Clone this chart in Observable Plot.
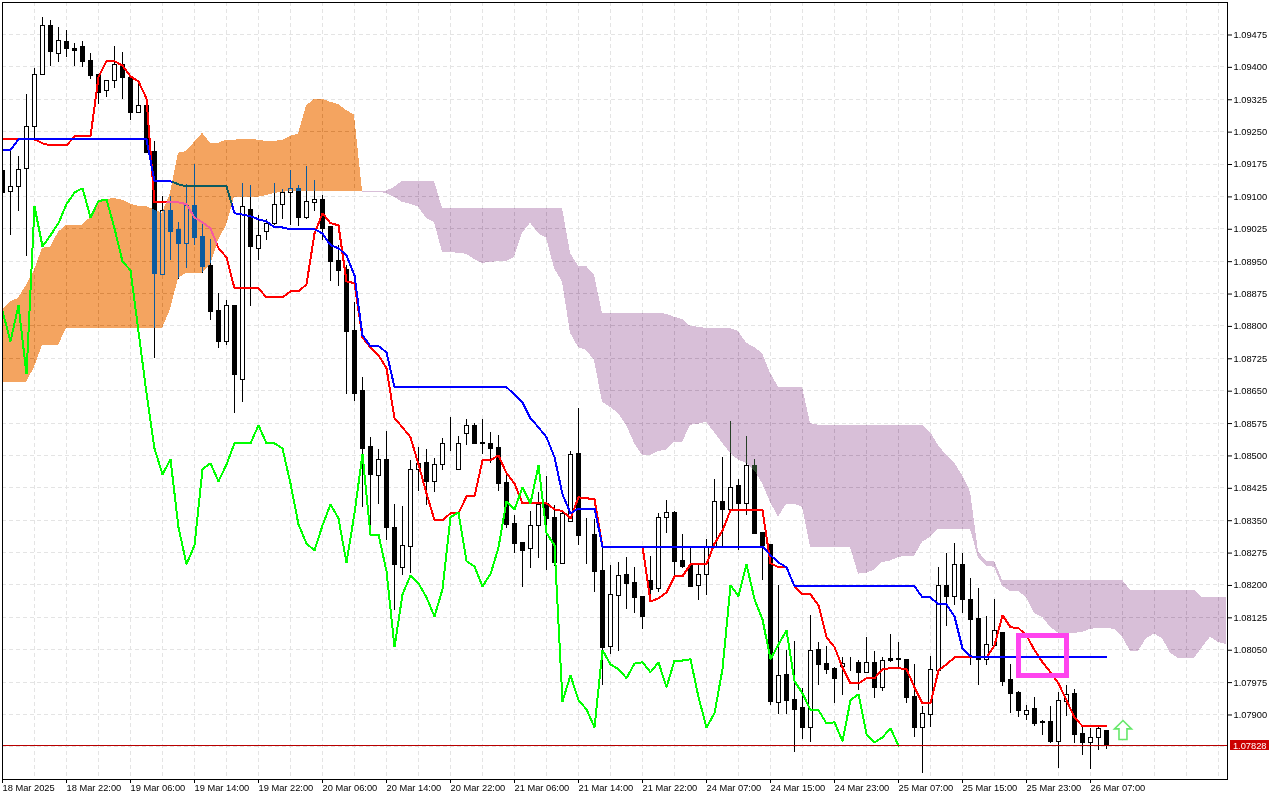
<!DOCTYPE html>
<html>
<head>
<meta charset="utf-8">
<script src="https://cdn.jsdelivr.net/npm/d3@7"></script>
<script src="https://cdn.jsdelivr.net/npm/@observablehq/plot@0.6"></script>
<style>html,body{margin:0;background:#fff}svg{display:block}</style>
</head>
<body>
<div id="chart"></div>
<script>
// Prices in points (1 point = 0.00001)
const openP = [109160,109112,109123,109165,109262,109383,109496,109431,109459,109443,109447,109415,109383,109346,109369,109406,109376,109295,109311,109204,108919,109068,109024,108991,109079,109007,108940,108836,108764,108848,108676,109070,108980,109019,109038,109082,109109,109119,109051,109086,109093,109031,108952,108931,108790,108651,108521,108454,108491,108333,108241,108289,108468,108484,108440,108479,108528,108468,108551,108570,108530,108528,108519,108438,108343,108299,108285,108338,108389,108357,108250,108347,108505,108317,108317,108234,108058,108176,108225,108206,108174,108211,108192,108357,108368,108257,108245,108199,108225,108287,108394,108375,108431,108389,108477,108322,108294,107928,107993,107935,107917,107870,108051,108018,108007,108012,108021,108021,107998,108021,107963,108030,108030,108028,107942,107870,107900,108002,108199,108174,108248,108167,108123,108028,108060,108090,107981,107951,107900,107914,107884,107884,107838,107931,107949,107856,107835,107847,107863];
const highP = [109207,109207,109193,109336,109397,109515,109508,109491,109485,109454,109459,109431,109383,109369,109447,109434,109376,109364,109311,109227,109100,109100,109040,109128,109174,109035,109000,108875,108859,108848,109130,109126,109056,109047,109130,109116,109160,109126,109170,109137,109102,109031,108987,108940,108855,108681,108542,108514,108556,108387,108382,108489,108519,108514,108493,108540,108588,108544,108584,108574,108584,108553,108547,108454,108361,108299,108371,108415,108452,108384,108371,108509,108609,108354,108352,108287,108245,108252,108264,108241,108174,108266,108366,108396,108371,108317,108289,108250,108306,108445,108496,108579,108445,108544,108491,108322,108294,108199,108049,108069,107961,108130,108067,108058,108009,108032,108032,108025,108079,108046,108032,108086,108067,108028,108016,107919,108035,108241,108273,108296,108273,108215,108192,108127,108167,108090,108016,107954,107921,107940,107886,107919,107951,107967,107958,107873,107868,107870,107863];
const lowP = [109079,109010,109065,108961,109234,109383,109401,109410,109422,109401,109399,109371,109313,109329,109350,109325,109276,109295,109202,108725,108917,108952,108908,108933,108987,108922,108813,108748,108755,108597,108623,108845,108952,108998,109033,109047,109033,109031,109047,109065,108998,108903,108892,108642,108625,108380,108338,108387,108303,108141,108222,108227,108417,108384,108415,108465,108509,108465,108523,108528,108503,108482,108417,108331,108273,108195,108239,108262,108234,108243,108250,108345,108292,108248,108183,107967,108039,108046,108144,108134,108097,108171,108183,108320,108220,108238,108195,108164,108176,108285,108287,108373,108280,108361,108317,108211,107921,107900,107900,107812,107842,107836,107967,107993,107926,107944,108000,107956,107995,107937,107954,108021,108007,107926,107847,107764,107870,108000,108104,108153,108134,108014,107967,108014,108060,107965,107903,107893,107886,107873,107852,107833,107775,107896,107833,107805,107773,107817,107819];
const closeP = [109109,109123,109163,109262,109383,109496,109436,109461,109443,109438,109413,109380,109341,109369,109406,109376,109295,109311,109202,108922,109068,109019,108991,109079,109005,108938,108834,108764,108848,108688,109077,108984,109010,109038,109082,109109,109119,109051,109089,109093,109026,108949,108929,108787,108644,108516,108456,108491,108333,108248,108292,108468,108482,108440,108479,108528,108528,108528,108570,108528,108528,108516,108435,108340,108296,108280,108338,108387,108354,108252,108366,108503,108315,108317,108232,108056,108178,108222,108204,108171,108127,108190,108357,108368,108255,108243,108197,108225,108287,108394,108375,108426,108389,108477,108320,108292,107930,107991,107933,107912,107870,108049,108016,108005,107984,108018,108021,107998,108021,107963,108025,108025,108028,107940,107870,107903,108005,108199,108174,108248,108167,108120,108028,108062,108095,107977,107949,107910,107910,107879,107882,107838,107933,107947,107854,107835,107847,107868,107828];

const tenkan = [109232,109232,109232,109232,109232,109223,109218,109218,109218,109239,109239,109239,109376,109413,109413,109403,109378,109366,109327,109086,109086,109086,109086,109082,109051,109040,109026,108980,108959,108887,108887,108887,108887,108866,108866,108866,108880,108880,108896,109014,109061,109038,109033,108903,108899,108773,108750,108732,108702,108586,108565,108542,108479,108412,108350,108350,108366,108366,108405,108405,108489,108489,108500,108459,108435,108389,108389,108389,108389,108375,108371,108354,108403,108401,108398,108289,108289,108289,108289,108289,108289,108162,108169,108183,108220,108220,108248,108248,108248,108296,108326,108373,108373,108373,108373,108373,108250,108241,108241,108197,108178,108178,108153,108079,108056,108009,107972,107972,107984,107984,108005,108007,108007,108005,107963,107926,107926,108002,108016,108032,108032,108032,108032,108032,108060,108130,108102,108100,108083,108049,108021,107998,107972,107933,107893,107873,107873,107873,107873];
const kijun = [109207,109207,109232,109232,109232,109232,109232,109232,109232,109232,109232,109232,109232,109232,109232,109232,109232,109232,109232,109135,109135,109135,109128,109123,109123,109123,109123,109123,109123,109061,109058,109054,109047,109042,109028,109028,109024,109024,109024,109024,109014,108987,108980,108963,108917,108778,108753,108753,108739,108658,108658,108658,108658,108658,108658,108658,108658,108658,108658,108658,108658,108658,108658,108658,108641,108623,108586,108565,108542,108496,108410,108366,108377,108377,108377,108289,108289,108289,108289,108289,108289,108289,108289,108289,108289,108289,108289,108289,108289,108289,108289,108289,108289,108289,108289,108289,108269,108252,108241,108197,108197,108197,108197,108197,108197,108197,108197,108197,108197,108197,108197,108197,108197,108197,108197,108171,108171,108155,108155,108127,108053,108035,108032,108032,108032,108032,108032,108032,108032,108032,108032,108032,108032,108032,108032,108032,108032,108032,108032];
// Chikou is the close displaced 26 bars back
const chikou = closeP.slice(26);

// Orange part of the cloud, bars 0..45
const bullUpper = [108836,108855,108864,108894,108929,108980,108982,109017,109033,109033,109033,109051,109084,109093,109095,109091,109082,109077,109077,109068,109061,109107,109200,109204,109225,109246,109223,109223,109230,109230,109232,109232,109230,109227,109227,109230,109239,109244,109309,109325,109325,109318,109313,109299,109288,109112];
const bullLower = [108669,108669,108669,108669,108704,108755,108755,108755,108794,108794,108794,108794,108794,108794,108794,108794,108794,108794,108794,108794,108794,108838,108910,108922,108922,108922,108940,108998,109033,109098,109098,109098,109098,109102,109107,109109,109112,109112,109112,109112,109112,109112,109112,109112,109112,109112];
// Purple part of the cloud, bars 45..153
const bearUpper = [109112,109112,109112,109112,109121,109135,109135,109135,109135,109135,109072,109072,109072,109072,109072,109072,109072,109072,109072,109072,109072,109072,109072,109072,109072,109072,108968,108938,108938,108917,108829,108829,108829,108829,108829,108829,108829,108829,108827,108820,108815,108799,108797,108794,108794,108794,108794,108787,108760,108750,108736,108690,108658,108658,108658,108658,108574,108570,108570,108570,108570,108570,108570,108570,108570,108570,108570,108570,108570,108570,108570,108553,108523,108500,108482,108454,108415,108276,108255,108255,108211,108211,108211,108211,108211,108211,108211,108211,108211,108211,108211,108211,108211,108211,108211,108211,108188,108188,108188,108188,108188,108188,108188,108188,108188,108171,108171,108171,108171];
const bearLower = [109109,109109,109109,109107,109098,109086,109082,109075,109049,109040,108970,108970,108968,108966,108954,108945,108947,108949,108949,108959,109014,109038,109014,109003,108933,108901,108783,108750,108743,108720,108623,108611,108597,108570,108528,108500,108500,108509,108512,108530,108530,108570,108572,108577,108553,108528,108505,108489,108482,108465,108435,108391,108357,108387,108387,108380,108287,108287,108287,108287,108287,108287,108225,108227,108234,108252,108255,108264,108266,108266,108299,108310,108329,108329,108329,108329,108329,108262,108243,108241,108197,108185,108185,108171,108134,108125,108102,108088,108086,108088,108090,108097,108100,108100,108097,108079,108046,108046,108076,108086,108076,108042,108030,108030,108030,108055,108079,108067,108062];

const yTickValues = [1.09475,1.094,1.09325,1.0925,1.09175,1.091,1.09025,1.0895,1.08875,1.088,1.08725,1.0865,1.08575,1.085,1.08425,1.0835,1.08275,1.082,1.08125,1.0805,1.07975,1.079];
const yGridValues = yTickValues.concat([1.07825]);
const xTickBars = [0,8,16,24,32,40,48,56,64,72,80,88,96,104,112,120,128,136];
const xTickLabels = ["18 Mar 2025","18 Mar 22:00","19 Mar 06:00","19 Mar 14:00","19 Mar 22:00","20 Mar 06:00","20 Mar 14:00","20 Mar 22:00","21 Mar 06:00","21 Mar 14:00","21 Mar 22:00","24 Mar 07:00","24 Mar 15:00","24 Mar 23:00","25 Mar 07:00","25 Mar 15:00","25 Mar 23:00","26 Mar 07:00"];
const xGridBars = d3.range(4, 153, 4);
const lastPrice = 1.07828;

const P = 1e-5;
const candles = openP.map((o, i) => ({
  i, o: o * P, h: highP[i] * P, l: lowP[i] * P, c: closeP[i] * P, up: closeP[i] >= o
}));
const series = a => a.map((v, i) => ({i, v: v * P}));
const cloud = (hi, lo, start) => hi.map((v, i) => ({i: i + start, hi: v * P, lo: lo[i] * P}));

const arrowSymbol = {
  draw(ctx, size) {
    const r = Math.sqrt(size / Math.PI);
    ctx.moveTo(0, -r);
    ctx.lineTo(r * 0.9, -r * 0.12);
    ctx.lineTo(r * 0.42, -r * 0.12);
    ctx.lineTo(r * 0.42, r);
    ctx.lineTo(-r * 0.42, r);
    ctx.lineTo(-r * 0.42, -r * 0.12);
    ctx.lineTo(-r * 0.9, -r * 0.12);
    ctx.closePath();
  }
};

const GRID = {stroke: "#e4e4e4", strokeDasharray: "4,3", strokeWidth: 1};
const CRISP = {shapeRendering: "crispEdges"};
const LINE = {x: "i", y: "v", strokeWidth: 2, strokeLinejoin: "miter", ...CRISP};
const chart = Plot.plot({
  width: 1280, height: 800,
  marginLeft: 2, marginRight: 53, marginTop: 2, marginBottom: 21,
  style: {fontFamily: "'Liberation Sans', Arial, sans-serif", fontSize: "9.3px", color: "#000", background: "#fff"},
  x: {type: "linear", domain: [0, 153.125], axis: null},
  y: {domain: [1.077494, 1.095491], axis: null},
  marks: [
    Plot.frame({fill: "white", stroke: "none"}),
    Plot.ruleY(yGridValues, {...GRID, ...CRISP}),
    Plot.ruleX(xGridBars, {...GRID, ...CRISP}),
    Plot.ruleX(candles, {x: "i", y1: "l", y2: "h", stroke: "black", strokeWidth: 1, clip: true, ...CRISP}),
    Plot.rect(candles, {
      x1: d => d.i - 0.25, x2: d => d.i + 0.25,
      y1: "o", y2: "c", dx: 0.5, dy: 0.5,
      fill: d => d.up ? "white" : "black", stroke: "black", strokeWidth: 1,
      clip: true, ...CRISP
    }),
    Plot.line(series(tenkan), {...LINE, stroke: "#ff0000"}),
    Plot.line(series(kijun), {...LINE, stroke: "#0000ff"}),
    Plot.areaY(cloud(bullUpper, bullLower, 0), {x: "i", y1: "lo", y2: "hi", fill: "#0b5b9f", mixBlendMode: "difference", ...CRISP}),
    Plot.areaY(cloud(bearUpper, bearLower, 45), {x: "i", y1: "lo", y2: "hi", fill: "#274027", mixBlendMode: "difference", ...CRISP}),
    Plot.line(series(chikou), {...LINE, stroke: "#00ff00"}),
    Plot.ruleY([lastPrice], {stroke: "#b80000", strokeWidth: 1, ...CRISP}),
    Plot.rect([{x1: 127.06, x2: 133.1, y1: 1.0799, y2: 1.08082}], {
      x1: "x1", x2: "x2", y1: "y1", y2: "y2", fill: "none", stroke: "#ff44ee", strokeWidth: 5, ...CRISP
    }),
    Plot.dot([{i: 140.06, v: 1.07864}], {
      x: "i", y: "v", r: 9.5, symbol: arrowSymbol, fill: "white", stroke: "#66e86a", strokeWidth: 1.6
    }),
    Plot.axisY({anchor: "right", ticks: yTickValues, tickFormat: d => d.toFixed(5), tickSize: 4, tickPadding: 2, label: null, stroke: "black", dy: 0.5}),
    Plot.axisX({anchor: "bottom", ticks: xTickBars, tickFormat: k => xTickLabels[xTickBars.indexOf(k)], textAnchor: "start", tickSize: 4, tickPadding: 1, label: null, stroke: "black"}),
    Plot.rect([{x1: 153.5, x2: 158.35, y1: lastPrice - 0.00012, y2: lastPrice + 0.00012}], {
      x1: "x1", x2: "x2", y1: "y1", y2: "y2", fill: "#cc0000", ...CRISP
    }),
    Plot.text([lastPrice], {x: 153.8, y: d => d, text: d => d.toFixed(5), fill: "white", textAnchor: "start"}),
    Plot.frame({stroke: "black", strokeWidth: 1, ...CRISP})
  ]
});
document.getElementById("chart").append(chart);
</script>
</body>
</html>
